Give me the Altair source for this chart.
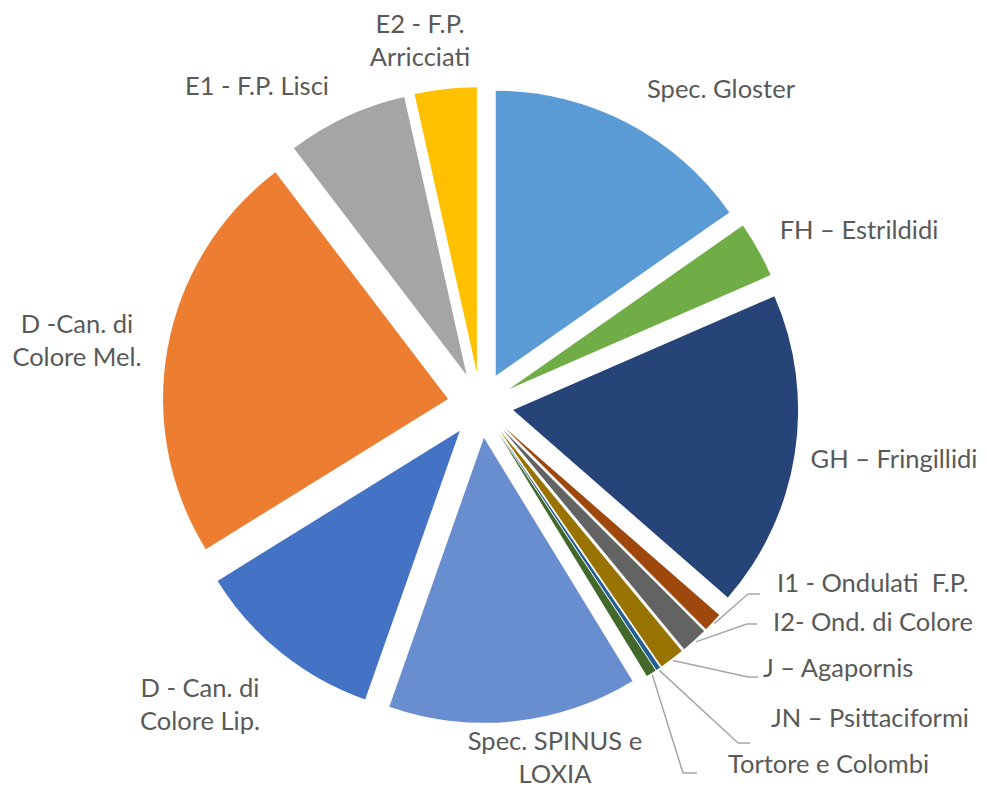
import altair as alt
import pandas as pd

# ---------------- data (clockwise from 12 o'clock) ----------------
names = [
    "Spec. Gloster", "FH – Estrildidi", "GH – Fringillidi",
    "I1 - Ondulati  F.P.", "I2- Ond. di Colore", "J – Agapornis",
    "JN – Psittaciformi", "Tortore e Colombi", "Spec. SPINUS e LOXIA",
    "D - Can. di Colore Lip.", "D -Can. di Colore Mel.",
    "E1 - F.P. Lisci", "E2 - F.P. Arricciati",
]
values = [183, 38, 215, 13, 18, 17, 3, 7, 169, 129, 281, 82, 42]
colors = [
    "#5B9BD5", "#70AD47", "#264478", "#9E480E", "#636363", "#997300",
    "#255E91", "#43682B", "#698ED0", "#4472C4", "#ED7D31", "#A5A5A5", "#FFC000",
]
label_text = [
    "Spec. Gloster", "FH – Estrildidi", "GH – Fringillidi",
    "I1 - Ondulati\u00a0 F.P.", "I2- Ond. di Colore", "J – Agapornis",
    "JN – Psittaciformi", "Tortore e Colombi", "Spec. SPINUS e\nLOXIA",
    "D - Can. di\nColore Lip.", "D -Can. di\nColore Mel.",
    "E1 - F.P. Lisci", "E2 - F.P.\nArricciati",
]

# ---------------- layout (page pixels) ----------------
MARGIN = 8
W, H = 987 - 2 * MARGIN, 798 - 2 * MARGIN
CX, CY = 480.5 - MARGIN, 405 - MARGIN   # pie centre
R = 285                                  # slice radius
EXPLODE = 33                             # explosion distance

label_x = [721, 859, 894, 777, 773, 763, 771, 728, 555, 200, 77, 257, 420]
label_y = [98, 239, 468, 592, 631, 677, 727, 773, 750, 697, 333, 95, 33]
label_align = ["center", "center", "center", "left", "left", "left", "left",
               "left", "center", "center", "center", "center", "center"]
leader_elbow_x = [None, None, None, 748, 747, 748, 738, 683, None, None, None, None, None]
leader_end_x = [None, None, None, 760, 757, 758, 750, 697, None, None, None, None, None]
leader_y = [None, None, None, 594, 624, 677, 743, 773, None, None, None, None, None]

df = pd.DataFrame({
    "name": names,
    "value": values,
    "order": list(range(len(names))),
    "label": label_text,
    "lx": [v - MARGIN for v in label_x],
    "ly": [v - MARGIN for v in label_y],
    "align": label_align,
    "ex": [None if v is None else v - MARGIN for v in leader_elbow_x],
    "fx": [None if v is None else v - MARGIN for v in leader_end_x],
    "ey": [None if v is None else v - MARGIN for v in leader_y],
})

base = (
    alt.Chart(df)
    .transform_joinaggregate(total="sum(value)")
    .transform_window(cum="sum(value)", sort=[alt.SortField("order")], frame=[None, 0])
    .transform_calculate(t1="2*PI*datum.cum/datum.total")
    .transform_calculate(t0="2*PI*(datum.cum-datum.value)/datum.total")
    .transform_calculate(mid="(datum.t0+datum.t1)/2")
    .transform_calculate(px=f"{CX}+{EXPLODE}*sin(datum.mid)")
    .transform_calculate(py=f"{CY}-{EXPLODE}*cos(datum.mid)")
    .transform_calculate(ox=f"datum.px+{R + 2}*sin(datum.mid)")
    .transform_calculate(oy=f"datum.py-{R + 2}*cos(datum.mid)")
)

arcs = base.mark_arc(radius=R, strokeWidth=0).encode(
    theta=alt.Theta("t0:Q", scale=None),
    theta2="t1:Q",
    x=alt.X("px:Q", scale=None, axis=None),
    y=alt.Y("py:Q", scale=None, axis=None),
    color=alt.Color("name:N", scale=alt.Scale(domain=names, range=colors), legend=None),
)

leader1 = base.transform_filter("datum.ex != null").mark_rule(
    color="#A6A6A6", strokeWidth=1.5
).encode(
    x=alt.X("ox:Q", scale=None, axis=None),
    y=alt.Y("oy:Q", scale=None, axis=None),
    x2="ex:Q",
    y2="ey:Q",
)
leader2 = base.transform_filter("datum.ex != null").mark_rule(
    color="#A6A6A6", strokeWidth=1.5
).encode(
    x=alt.X("ex:Q", scale=None, axis=None),
    y=alt.Y("ey:Q", scale=None, axis=None),
    x2="fx:Q",
    y2="ey:Q",
)

text_style = dict(font="Lato", fontSize=25.5, color="#595959", lineBreak="\n",
                  lineHeight=33, baseline="alphabetic")
labels_c = base.transform_filter("datum.align == 'center'").mark_text(
    align="center", **text_style
).encode(
    x=alt.X("lx:Q", scale=None, axis=None),
    y=alt.Y("ly:Q", scale=None, axis=None),
    text="label:N",
)
labels_l = base.transform_filter("datum.align == 'left'").mark_text(
    align="left", **text_style
).encode(
    x=alt.X("lx:Q", scale=None, axis=None),
    y=alt.Y("ly:Q", scale=None, axis=None),
    text="label:N",
)

chart = (
    alt.layer(arcs, leader1, leader2, labels_c, labels_l)
    .properties(width=W, height=H, autosize=alt.AutoSizeParams(type="none"), padding=0)
    .configure_view(strokeWidth=0)
)

chart.save("out.html", embed_options={"renderer": "svg", "actions": False})
